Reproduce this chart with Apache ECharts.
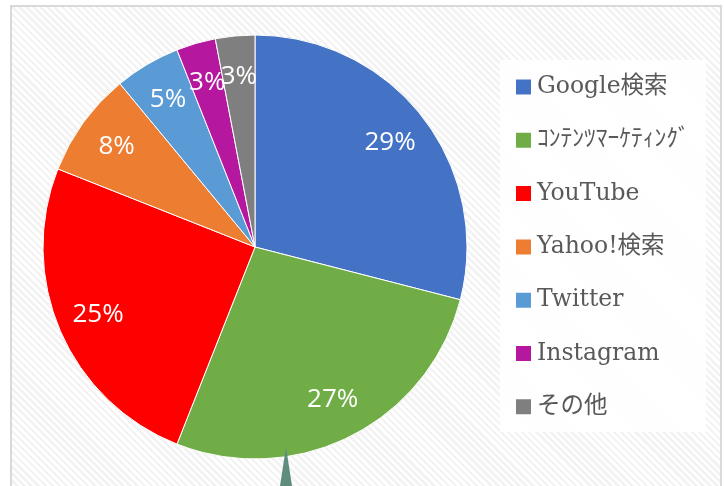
<!DOCTYPE html>
<html>
<head>
<meta charset="utf-8">
<script src="https://cdn.jsdelivr.net/npm/echarts@6/dist/echarts.min.js"></script>
<style>
  html, body { margin: 0; padding: 0; background: #fff; }
  .frame {
    position: absolute;
    left: 10px; top: 5px;
    width: 708px; height: 500px;
    border: 2px solid #d9d9d9;
    background: repeating-linear-gradient(45deg, #ffffff 0px, #ffffff 2.5px, #f3f3f3 2.5px, #f3f3f3 5px);
  }
  #chart { position: absolute; left: 0; top: 0; width: 724px; height: 486px; }
</style>
</head>
<body>
<div class="frame"></div>
<div id="chart"></div>
<script>
const categories = ['Google検索', 'ｺﾝﾃﾝﾂﾏｰｹﾃｨﾝｸﾞ', 'YouTube', 'Yahoo!検索', 'Twitter', 'Instagram', 'その他']
const shares = [29, 27, 25, 8, 5, 3, 3]
const colors = ['#4472C4', '#70AD47', '#FF0000', '#ED7D31', '#5B9BD5', '#B5179E', '#7F7F7F']

const chart = echarts.init(document.getElementById('chart'))

const pieData = categories.map((name, i) => ({ name, value: shares[i] }))

const option = {
  backgroundColor: 'transparent',
  color: colors,
  animation: false,
  legend: {
    orient: 'vertical',
    left: 514,
    top: 75,
    padding: 0,
    icon: 'rect',
    itemWidth: 17,
    itemHeight: 17,
    itemGap: 29.3,
    itemTextGap: 9,
    data: categories,
    textStyle: {
      fontFamily: '"DejaVu Serif", "Noto Sans CJK JP", serif',
      fontSize: 23.5,
      lineHeight: 24,
      height: 24,
      color: '#595959'
    }
  },
  graphic: [
    {
      type: 'rect',
      z: -1,
      shape: { x: 500, y: 60, width: 206, height: 372 },
      style: { fill: 'rgba(255,255,255,0.85)' }
    },
    {
      type: 'polygon',
      z: 100,
      shape: { points: [[286, 447], [280, 486], [292, 486]] },
      style: { fill: '#5E8C7F' }
    }
  ],
  series: [
    {
      type: 'pie',
      center: [255, 247],
      radius: [0, 212],
      startAngle: 90,
      clockwise: true,
      label: { show: false },
      labelLine: { show: false },
      itemStyle: { borderColor: '#ffffff', borderWidth: 1 },
      emphasis: { disabled: true },
      data: pieData
    },
    {
      type: 'pie',
      center: [255, 247],
      radius: [124, 212],
      startAngle: 90,
      clockwise: true,
      silent: true,
      avoidLabelOverlap: false,
      labelLayout: { hideOverlap: false },
      itemStyle: { color: 'transparent' },
      label: {
        show: true,
        position: 'inside',
        formatter: '{c}%',
        color: '#ffffff',
        fontFamily: '"Open Sans", "Noto Sans", sans-serif',
        fontSize: 26
      },
      labelLine: { show: false },
      data: pieData
    }
  ]
}

chart.setOption(option)
</script>
</body>
</html>
